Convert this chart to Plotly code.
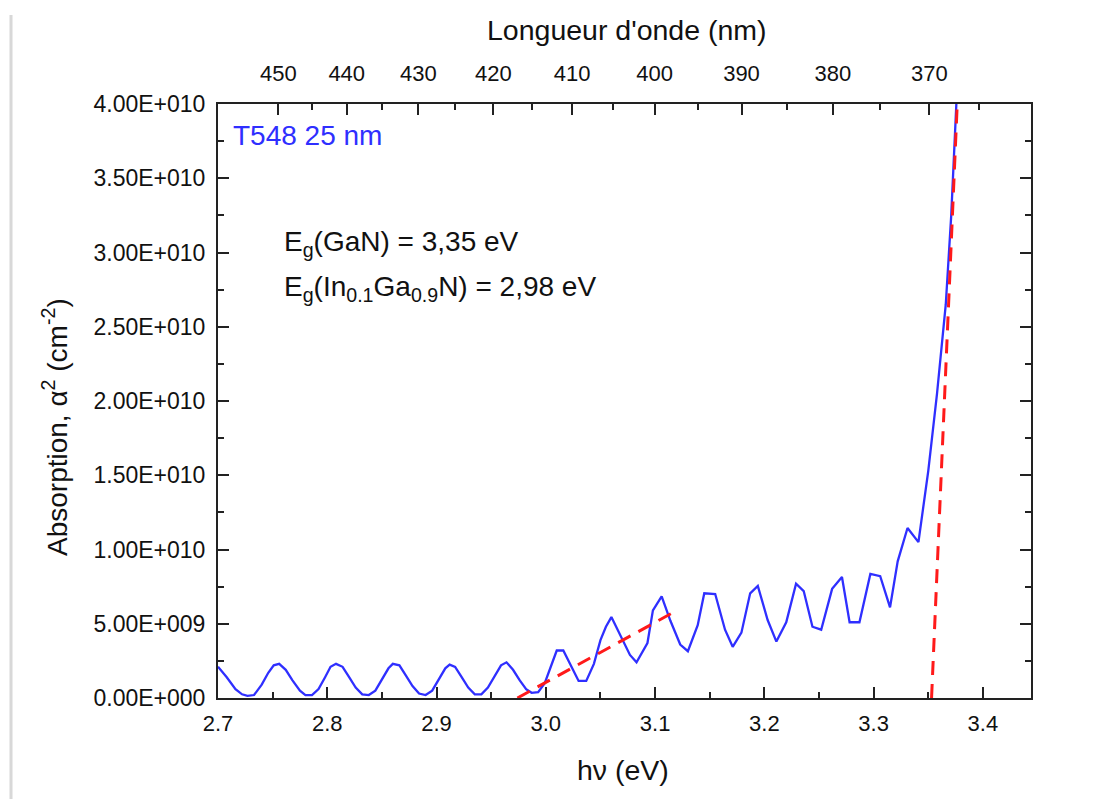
import numpy as np
import plotly.graph_objects as go

# ---------------- data ----------------
hv = [2.700, 2.708, 2.716, 2.722, 2.727, 2.733, 2.740, 2.746, 2.751, 2.756,
      2.762, 2.768, 2.775, 2.780, 2.786, 2.792, 2.798, 2.803, 2.808, 2.814,
      2.820, 2.826, 2.832, 2.838, 2.844, 2.850, 2.856, 2.860, 2.866, 2.872,
      2.878, 2.884, 2.890, 2.896, 2.902, 2.908, 2.912, 2.917, 2.923, 2.929,
      2.935, 2.941, 2.947, 2.953, 2.959, 2.964, 2.970, 2.976, 2.982, 2.987,
      2.993, 2.999, 3.005, 3.010, 3.016, 3.022, 3.030, 3.037, 3.044, 3.050,
      3.055, 3.060, 3.069, 3.077, 3.083, 3.093, 3.098, 3.106, 3.114, 3.123,
      3.130, 3.139, 3.145, 3.155, 3.164, 3.171, 3.179, 3.187, 3.194, 3.203,
      3.211, 3.220, 3.229, 3.236, 3.244, 3.252, 3.262, 3.271, 3.278, 3.287,
      3.297, 3.306, 3.315, 3.322, 3.331, 3.341, 3.350, 3.358, 3.366, 3.371,
      3.376]
alpha2_e9 = [2.1, 1.4, 0.6, 0.25, 0.15, 0.2, 0.9, 1.7, 2.2, 2.3,
             1.9, 1.2, 0.5, 0.2, 0.2, 0.6, 1.4, 2.1, 2.3, 2.1,
             1.4, 0.7, 0.25, 0.2, 0.5, 1.3, 2.0, 2.3, 2.2, 1.5,
             0.8, 0.3, 0.2, 0.5, 1.3, 2.0, 2.25, 2.1, 1.4, 0.7,
             0.25, 0.25, 0.7, 1.5, 2.2, 2.4, 1.9, 1.2, 0.6, 0.35,
             0.4, 1.0, 2.2, 3.2, 3.2, 2.3, 1.15, 1.15, 2.3, 3.9,
             4.8, 5.45, 4.1, 2.9, 2.4, 3.7, 5.9, 6.85, 5.2, 3.6,
             3.15, 4.9, 7.05, 7.0, 4.6, 3.45, 4.4, 7.05, 7.55, 5.25,
             3.8, 5.1, 7.7, 7.2, 4.8, 4.6, 7.35, 8.15, 5.1, 5.1,
             8.35, 8.2, 6.1, 9.2, 11.45, 10.5, 15.3, 20.5, 26.5, 32.5,
             40.5]

fit_ingan_x = [2.974, 3.119]
fit_ingan_y_e9 = [0.0, 5.86]
fit_gan_x = [3.353, 3.3765]
fit_gan_y_e9 = [0.0, 40.0]

x_ticks = [2.7, 2.8, 2.9, 3.0, 3.1, 3.2, 3.3, 3.4]
x_tick_text = ["2.7", "2.8", "2.9", "3.0", "3.1", "3.2", "3.3", "3.4"]
y_ticks_e9 = [0, 5, 10, 15, 20, 25, 30, 35, 40]
y_tick_text = ["0.00E+000", "5.00E+009", "1.00E+010", "1.50E+010", "2.00E+010",
               "2.50E+010", "3.00E+010", "3.50E+010", "4.00E+010"]
wl_major = [450, 440, 430, 420, 410, 400, 390, 380, 370]
wl_minor = [445, 435, 425, 415, 405, 395, 385, 375, 365]
HC = 1239.84  # eV*nm

y_scale = 1e9
alpha2 = [v * y_scale for v in alpha2_e9]

# ---------------- figure ----------------
W, H = 1118, 799
OFF = 8  # page body margin
PL, PR, PT, PB = 218, 1031, 104, 698  # plot area in page pixels
L, R, T, B = PL - OFF, W + OFF - PR, PT - OFF, H + OFF - PB
X_RANGE = [2.7, 3.444]
Y_RANGE = [0, 4.0e10]

font_family = "Liberation Sans, Arial, sans-serif"
axis_col = "#222222"
txt_col = "#111111"

fig = go.Figure()
fig.add_trace(go.Scatter(x=hv, y=alpha2, mode="lines",
                         line=dict(color="#2f2fff", width=2.3),
                         showlegend=False, hoverinfo="skip"))
fig.add_trace(go.Scatter(x=fit_ingan_x, y=[v * y_scale for v in fit_ingan_y_e9],
                         mode="lines",
                         line=dict(color="#ff1a1a", width=3, dash="14px,9px"),
                         showlegend=False, hoverinfo="skip"))
fig.add_trace(go.Scatter(x=fit_gan_x, y=[v * y_scale for v in fit_gan_y_e9],
                         mode="lines",
                         line=dict(color="#ff1a1a", width=3, dash="14px,9px"),
                         showlegend=False, hoverinfo="skip"))
# invisible trace for the top (wavelength) axis
fig.add_trace(go.Scatter(x=[X_RANGE[0]], y=[0], mode="markers", xaxis="x2",
                         marker=dict(opacity=0), showlegend=False, hoverinfo="skip"))

tick_font = dict(family=font_family, size=22, color=txt_col)
ytick_font = dict(family=font_family, size=23, color=txt_col)

fig.update_layout(
    width=W, height=H, autosize=False,
    margin=dict(l=L, r=R, t=T, b=B, pad=0),
    paper_bgcolor="white", plot_bgcolor="white",
    font=dict(family=font_family, color=txt_col),
    xaxis=dict(range=X_RANGE, tickmode="array", tickvals=x_ticks, ticktext=x_tick_text,
               ticks="inside", ticklen=11, tickwidth=2, tickcolor=axis_col,
               ticklabelstandoff=5,
               minor=dict(ticks="inside", ticklen=6, tickwidth=2, tickcolor=axis_col,
                          tick0=2.75, dtick=0.1, showgrid=False),
               showline=True, linecolor=axis_col, linewidth=2, mirror=False,
               showgrid=False, zeroline=False, tickfont=tick_font),
    xaxis2=dict(range=X_RANGE, overlaying="x", side="top", anchor="y",
                tickmode="array", tickvals=[HC / w for w in wl_major],
                ticktext=[str(w) for w in wl_major],
                ticks="inside", ticklen=11, tickwidth=2, tickcolor=axis_col,
                ticklabelstandoff=12,
                minor=dict(ticks="inside", ticklen=6, tickwidth=2, tickcolor=axis_col,
                           tickvals=[HC / w for w in wl_minor], showgrid=False),
                showline=True, linecolor=axis_col, linewidth=2,
                showgrid=False, zeroline=False, tickfont=tick_font),
    yaxis=dict(range=Y_RANGE, tickmode="array", tickvals=[v * y_scale for v in y_ticks_e9],
               ticktext=y_tick_text,
               ticks="inside", ticklen=11, tickwidth=2, tickcolor=axis_col,
               ticklabelstandoff=6,
               minor=dict(ticks="inside", ticklen=6, tickwidth=2, tickcolor=axis_col,
                          tick0=2.5e9, dtick=5e9, showgrid=False),
               showline=True, linecolor=axis_col, linewidth=2, mirror="ticks",
               showgrid=False, zeroline=False, tickfont=ytick_font),
)

pw = PR - PL
ph = PB - PT


def px_x(p):
    return (p - PL) / pw


def px_y(p):
    return (PB - p) / ph


annots = [
    dict(text="Longueur d'onde (nm)", x=px_x(627), y=px_y(30), size=28.5, color=txt_col,
         xanchor="center", angle=0),
    dict(text="h\u03bd (eV)", x=px_x(623), y=px_y(770), size=28.5, color=txt_col,
         xanchor="center", angle=0),
    dict(text="Absorption, \u03b1<sup>2</sup> (cm<sup>-2</sup>)", x=px_x(55), y=px_y(427),
         size=28, color=txt_col, xanchor="center", angle=-90),
    dict(text="T548 25 nm", x=px_x(231), y=px_y(135), size=28, color="#2f2fff",
         xanchor="left", angle=0),
    dict(text="E<sub>g</sub>(GaN) = 3,35 eV", x=px_x(282), y=px_y(243), size=28,
         color=txt_col, xanchor="left", angle=0),
    dict(text="E<sub>g</sub>(In<sub>0.1</sub>Ga<sub>0.9</sub>N) = 2,98 eV", x=px_x(282),
         y=px_y(288), size=28, color=txt_col, xanchor="left", angle=0),
]
for a in annots:
    fig.add_annotation(text=a["text"], xref="paper", yref="paper", x=a["x"], y=a["y"],
                       xanchor=a["xanchor"], yanchor="middle", showarrow=False,
                       textangle=a["angle"],
                       font=dict(family=font_family, size=a["size"], color=a["color"]))

# faint border on the left of the picture
fig.add_shape(type="line", xref="paper", yref="paper",
              x0=px_x(11), x1=px_x(11), y0=px_y(15), y1=px_y(799),
              line=dict(color="#d8d8d8", width=3))

fig.write_html("out.html")
